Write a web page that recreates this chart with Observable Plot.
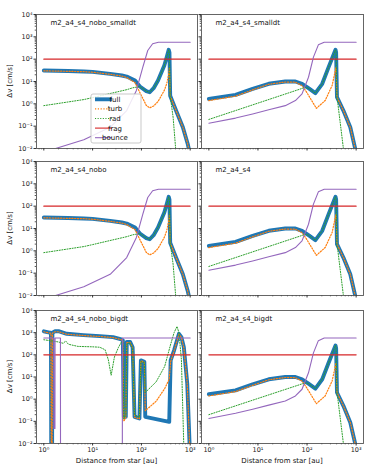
<!DOCTYPE html>
<html><head><meta charset="utf-8">
<script src="https://cdn.jsdelivr.net/npm/d3@7"></script>
<script src="https://cdn.jsdelivr.net/npm/@observablehq/plot@0.6"></script>
<style>
body{margin:0;background:#fff;}
#fig{position:relative;width:374px;height:467px;font-family:"DejaVu Sans",sans-serif;}
#fig svg{position:absolute;overflow:visible;}
</style></head><body><div id="fig"></div>
<script>
// ---------- data ----------
const panelTitles = ["m2_a4_s4_nobo_smalldt","m2_a4_s4_smalldt","m2_a4_s4_nobo","m2_a4_s4","m2_a4_s4_nobo_bigdt","m2_a4_s4_bigdt"];
const seriesNames = ["full","turb","rad","frag","bounce"];
const seriesColors = ["#1f77b4","#ff7f0e","#2ca02c","#d62728","#9467bd"];
const xTickValues = [1,10,100,1000];
const yTickValues = [1e-2,1e-1,1,10,100,1000,1e4];

// "nobo" runs (smalldt and default dt)
const noboFullR = [1,3.16,6.6,10,22.9,39.8,50,74,93,126,148,178,219,295,331,363,376,389,513,708,891,1000];
const noboFullV = [31,29.5,28.2,26.9,21.9,18.6,16.6,11,6.0,3.7,3.3,5.0,11,52,126,263,200,2.3,0.5,0.089,0.016,0.005];
const noboTurbR = [1,3.16,6.6,10,22.9,39.8,50,74,93,126,148,178,219,295,331,363,376,389,513,708,891,1000];
const noboTurbV = [30,28.5,27.5,26,21,17.4,15,8.9,3.2,0.85,0.66,0.8,1.26,4,8,22,44,2.3,0.5,0.089,0.016,0.005];
const noboRadR = [1,6.6,10,22.9,50,66,93,126,148,178,219,295,331,363,376,389,447,513];
const noboRadV = [0.83,1.55,1.9,2.9,4.3,5.2,6.0,3.7,3.3,5.0,11,52,126,263,200,2.3,0.25,0.006];
const noboBounceR = [1,1.74,6.6,22.9,50,79,107,135,170,224,1000];
const noboBounceV = [0.006,0.01,0.0245,0.089,0.5,4,44,245,490,575,575];

// runs with bouncing (smalldt, default, bigdt)
const boFullR = [1,3.5,7.8,16.6,36,58,79,107,148,204,275,380,391,407,550,760,955,1000];
const boFullV = [1.66,2.5,4.7,7.9,10,10,7.9,5.0,3.0,7.9,44,263,200,2.0,0.5,0.089,0.01,0.006];
const boTurbR = [1,3.5,7.8,16.6,36,58,79,93,155,234,324,389,407,550,760,955,1000];
const boTurbV = [1.4,2.2,4.2,7.5,9.5,9.3,6.5,4,0.63,1.4,6.6,44,2.0,0.5,0.089,0.01,0.006];
const boRadR = [1,93,107,148,204,275,380,391,407,417,550];
const boRadV = [0.2,5.5,5.0,3.0,7.9,44,263,200,1.6,1.4,0.01];
const boBounceR = [1,3.5,7.8,16.6,36,58,79,107,135,170,224,1000];
const boBounceV = [0.135,0.23,0.35,0.54,0.83,1.4,2.8,15.5,123,437,575,575];

// "nobo_bigdt" run
const bigFullR = [1,1.32,1.40,1.42,1.48,1.50,1.7,2.0,2.95,6.5,14.1,26.3,38.9,41.7,43.7,47.9,50.1,58.9,66.1,72.4,91.2,97.7,115,120,372,398,468,589,661,741,871,977];
const bigFullV = [1150,1000,1000,0.007,0.007,1000,1150,1170,890,775,700,630,500,450,0.16,0.16,380,380,220,0.16,0.135,56,48,0.16,0.095,56,160,890,630,220,5,0.007];
const bigTurbR = [1,1.32,1.40,1.42,1.48,1.50,1.7,2.0,2.95,6.5,14.1,26.3,38.9,41.7,43.7,47.9,50.1,58.9,66.1,72.4,91.2,97.7,115,120,200,300,372,398,468,589,661,741,871,977];
const bigTurbV = [1100,950,950,0.007,0.007,950,1100,1100,850,740,670,600,480,430,0.1,0.15,360,360,210,0.15,0.13,54,46,0.3,0.8,3,8,50,150,850,600,210,5,0.007];
const bigRadR = [1,1.5,2.0,2.5,2.8,3.2,5,10,14,18,21,24,28,34,39,41.7,43.7,47.9,50.1,58.9,66.1,72.4,91.2,97.7,115,120,200,300,398,468,537,589,661,741];
const bigRadV = [480,420,380,330,420,300,240,230,220,170,60,12,80,220,380,300,0.13,0.2,300,350,200,0.2,0.15,50,45,2,6,30,300,1000,1900,1000,60,0.007];
const bigBounceR = [1,1.6,1.61,1.69,1.70,2.19,2.2,40.7,40.8,1000];
const bigBounceV = [575,575,0.048,0.048,575,575,0.005,0.005,575,575];
const fragR = [1,1000];
const fragV = [100,100];

// ---------- helpers ----------
const sup = s => String(s).replace(/-/g,"⁻").replace(/\d/g,c=>"⁰¹²³⁴⁵⁶⁷⁸⁹"[+c]);
const powFmt = d => "10" + sup(Math.round(Math.log10(d)));
const rows = (R,V) => R.map((r,i)=>({r, v:V[i]}));
const minor = (lo,hi) => { const out=[]; for(let e=lo;e<=hi;e++) for(let m=2;m<=9;m++){ out.push(m*10**e);} return out; };
const X_DOMAIN = [10**-0.15, 10**3.15];
const xMinor = minor(-1,3).filter(d=>d>=X_DOMAIN[0]&&d<=X_DOMAIN[1]);
const yMinor = minor(-2,3);

const datasets = {
  nobo: {full:rows(noboFullR,noboFullV), turb:rows(noboTurbR,noboTurbV), rad:rows(noboRadR,noboRadV), bounce:rows(noboBounceR,noboBounceV)},
  bo: {full:rows(boFullR,boFullV), turb:rows(boTurbR,boTurbV), rad:rows(boRadR,boRadV), bounce:rows(boBounceR,boBounceV)},
  big: {full:rows(bigFullR,bigFullV), turb:rows(bigTurbR,bigTurbV), rad:rows(bigRadR,bigRadV), bounce:rows(bigBounceR,bigBounceV)}
};
const panelData = ["nobo","bo","nobo","bo","big","bo"];
const frag = rows(fragR,fragV);

const fig = document.getElementById("fig");
const colLeft = [36,201], colW = [161,162];
const rowTop = [14,161,310], rowH = [134,134,133];

panelTitles.forEach((title,i)=>{
  const col = i%2, row = Math.floor(i/2);
  const mL = col===0?36:6, mR = 6, mT = 6, mB = row===2?24:6;
  const w = colW[col], h = rowH[row];
  const d = datasets[panelData[i]];
  const lineOpt = (k, extra) => Object.assign({x:"r", y:"v", stroke:seriesColors[seriesNames.indexOf(k)], clip:true}, extra);
  const svg = Plot.plot({
    width: mL+w+mR, height: mT+h+mB,
    marginLeft:mL, marginRight:mR, marginTop:mT, marginBottom:mB,
    x:{type:"log", domain:X_DOMAIN},
    y:{type:"log", domain:[1e-2,1e4]},
    style:{fontFamily:"DejaVu Sans", fontSize:"6.5px", color:"#222", background:"transparent", overflow:"visible"},
    marks:[
      Plot.line(d.full, lineOpt("full",{strokeWidth:3.9})),
      Plot.line(d.turb, lineOpt("turb",{strokeWidth:1.2, strokeDasharray:"1.2,1.6"})),
      Plot.line(d.rad, lineOpt("rad",{strokeWidth:1.0, strokeDasharray:"1.1,1.5"})),
      Plot.line(frag, lineOpt("frag",{strokeWidth:1.1})),
      Plot.line(d.bounce, lineOpt("bounce",{strokeWidth:1.1})),
      Plot.frame({stroke:"#555", strokeWidth:0.9}),
      Plot.axisY(yTickValues,{tickSize:2.5, tickPadding:1.5, label:null, stroke:"#333", tickFormat: col===0?powFmt:()=>""}),
      Plot.axisY(yMinor,{tickSize:1.3, label:null, stroke:"#555", tickFormat:()=>""}),
      Plot.axisX(xTickValues,{tickSize:2.5, tickPadding:1.5, label:null, stroke:"#333", tickFormat: row===2?powFmt:()=>""}),
      Plot.axisX(xMinor,{tickSize:1.3, label:null, stroke:"#555", tickFormat:()=>""}),
      Plot.text([title],{frameAnchor:"top-left", dx:14, dy:6, textAnchor:"start", lineAnchor:"top", fontSize:7, fill:"#111"})
    ]
  });
  svg.style.left = (colLeft[col]-mL)+"px";
  svg.style.top = (rowTop[row]-mT)+"px";
  const s = d3.select(svg);
  if (col===0) {
    s.append("text").attr("transform",`translate(12,${mT+h/2}) rotate(-90)`)
      .attr("text-anchor","middle").attr("font-size",7).attr("fill","#111").text("Δv [cm/s]");
  }
  if (row===2) {
    s.append("text").attr("x",mL+w/2).attr("y",mT+h+20).attr("text-anchor","middle")
      .attr("font-size",7).attr("fill","#111").text("Distance from star [au]");
  }
  if (i===0) {
    const ox = -colLeft[col]+mL, oy = -rowTop[row]+mT;
    const g = s.append("g").attr("transform",`translate(${ox},${oy})`);
    g.append("rect").attr("x",91).attr("y",94).attr("width",50).attr("height",49).attr("rx",2)
      .attr("fill","white").attr("fill-opacity",0.85).attr("stroke","#bbb").attr("stroke-width",0.8);
    const styles = [{w:3.9},{w:1.2,da:"1.2,1.6"},{w:1.0,da:"1.1,1.5"},{w:1.1},{w:1.1}];
    seriesNames.forEach((n,k)=>{
      const y = 99.3 + k*9.6;
      g.append("line").attr("x1",95).attr("x2",112).attr("y1",y).attr("y2",y)
        .attr("stroke",seriesColors[k]).attr("stroke-width",styles[k].w).attr("stroke-dasharray",styles[k].da||null);
      g.append("text").attr("x",115).attr("y",y).attr("dy","0.35em").attr("font-size",7).attr("fill","#111").text(n);
    });
  }
  fig.appendChild(svg);
});
</script></body></html>
